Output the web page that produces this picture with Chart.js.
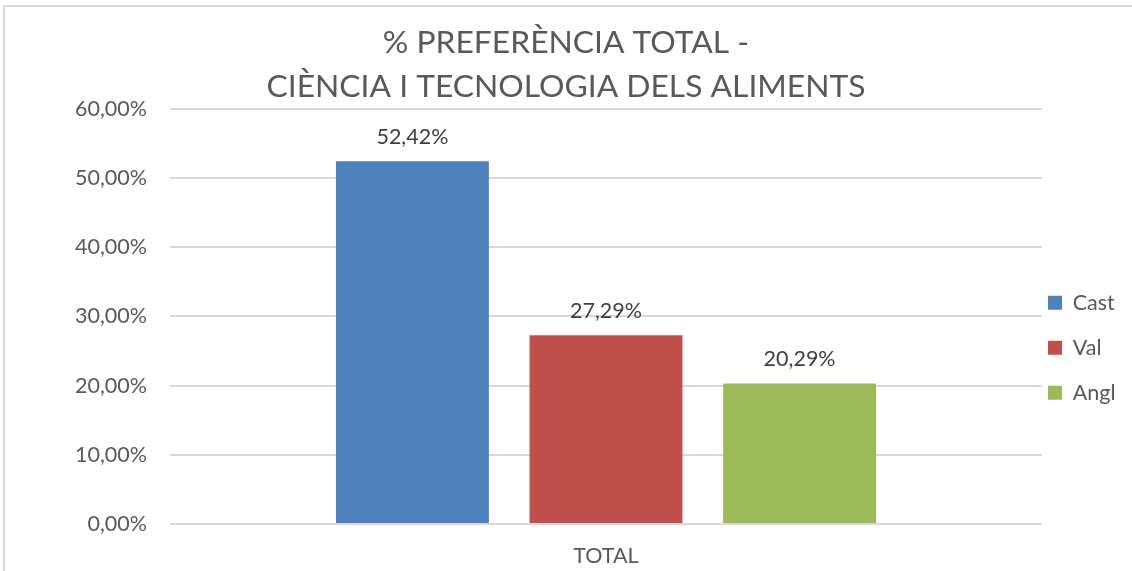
<!DOCTYPE html>
<html><head><meta charset="utf-8">
<script src="https://cdn.jsdelivr.net/npm/chart.js@4/dist/chart.umd.min.js"></script>
<style>
html,body{margin:0;padding:0;background:#fff;}
#wrap{position:relative;width:1132px;height:571px;overflow:hidden;}
#frame{position:absolute;left:3px;top:5px;width:1200px;height:700px;border:2px solid #d9d9d9;box-sizing:border-box;}
canvas{position:absolute;left:0;top:0;}
</style></head><body>
<div id="wrap"><div id="frame"></div><canvas id="c" width="1132" height="571"></canvas></div>
<script>
const categories = ['TOTAL'];
const seriesNames = ['Cast', 'Val', 'Angl'];
const seriesValues = [[52.42], [27.29], [20.29]];
const seriesColors = ['#4f81bd', '#c0504d', '#9bbb59'];
const titleLines = ['% PREFERÈNCIA TOTAL -', 'CIÈNCIA I TECNOLOGIA DELS ALIMENTS'];
const yTicks = [0, 10, 20, 30, 40, 50, 60];

const FONT = 'Lato';
const FS = 21.5;
const fmt = v => v.toFixed(2).replace('.', ',') + '%';

const dataLabels = {
  id: 'dataLabels',
  afterDatasetsDraw(chart) {
    const ctx = chart.ctx;
    ctx.save();
    ctx.font = FS + 'px ' + FONT;
    ctx.fillStyle = '#404040';
    ctx.textAlign = 'center';
    ctx.textBaseline = 'middle';
    chart.data.datasets.forEach((ds, i) => {
      chart.getDatasetMeta(i).data.forEach((bar, j) => {
        ctx.fillText(fmt(ds.data[j]), bar.x, bar.y - 24.5);
      });
    });
    ctx.restore();
  }
};

const legendPlace = {
  id: 'legendPlace',
  beforeUpdate(chart) {
    const lg = chart.legend;
    if (lg && !lg._patched) {
      const orig = lg.fit;
      lg.fit = function () { orig.call(this); this.width = 90; };
      lg._patched = true;
    }
  },
  afterLayout(chart) {
    const lg = chart.legend;
    const w = lg.width, h = lg.height;
    lg.left = 1048 - 23.5; lg.right = lg.left + w;
    lg.top = 292 - 23.5; lg.bottom = lg.top + h;
  }
};

new Chart(document.getElementById('c'), {
  type: 'bar',
  data: {
    labels: categories,
    datasets: seriesNames.map((n, i) => ({
      label: n, data: seriesValues[i], backgroundColor: seriesColors[i],
      barPercentage: 0.79, categoryPercentage: 0.666
    }))
  },
  options: {
    responsive: false, animation: false,
    layout: { padding: { left: 0, right: 0, top: 21, bottom: 2 } },
    plugins: {
      title: { display: true, text: titleLines, color: '#595959',
        font: { family: FONT, size: 31.8, weight: 'normal', lineHeight: 1.38 }, padding: { top: 0, bottom: 0 } },
      legend: { position: 'right', align: 'start',
        labels: { color: '#595959', font: { family: FONT, size: FS }, boxWidth: 14, boxHeight: 14, padding: 23.5 } },
      tooltip: { enabled: false }
    },
    scales: {
      x: { grid: { display: false, drawTicks: false }, border: { display: false },
        afterFit: ax => { ax.height = 45; },
        ticks: { color: '#595959', font: { family: FONT, size: FS }, padding: 19, maxRotation: 0 } },
      y: { min: 0, max: 60, afterBuildTicks: ax => { ax.ticks = yTicks.map(v => ({ value: v })); },
        afterFit: ax => { ax.width = 170; },
        grid: { color: '#d9d9d9', lineWidth: 2, drawTicks: false }, border: { display: false },
        ticks: { color: '#595959', font: { family: FONT, size: FS }, padding: 23, callback: v => fmt(v) } }
    }
  },
  plugins: [dataLabels, legendPlace]
});
</script>
</body></html>
